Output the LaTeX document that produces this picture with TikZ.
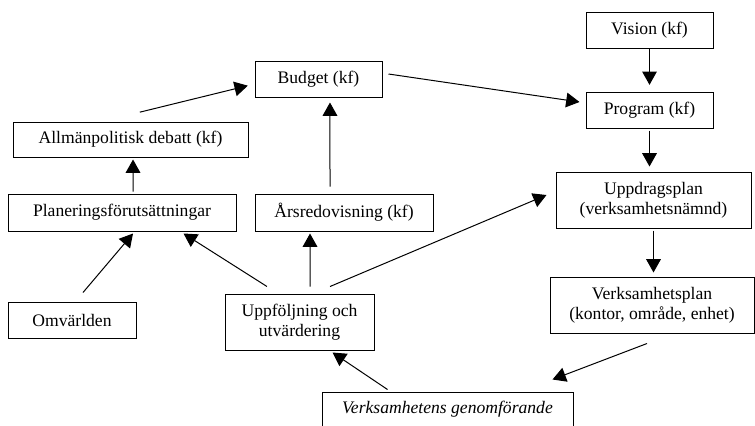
\documentclass[tikz,border=0pt]{standalone}
\usepackage{fontspec}
\setmainfont{Liberation Serif}
\usetikzlibrary{arrows.meta}

\begin{document}
\begin{tikzpicture}[x=0.75pt, y=-0.75pt, line width=0.75pt,
    >={Triangle[length=10pt, width=11pt]},
    box/.style={draw, inner sep=0pt, align=center,
      font=\fontsize{13.2}{15}\selectfont}]
        \useasboundingbox (0,0) rectangle (755,425);
        % planning chain (right)
        \node[box, minimum width=95.25pt, minimum height=27pt] (vision) at (649.5,30) {Vision (kf)};
        \node[box, minimum width=95.25pt, minimum height=27pt] (program) at (649.5,110) {Program (kf)};
        \node[box, minimum width=146.25pt, minimum height=42pt] (uppdrag) at (653.5,200) {Uppdragsplan\\(verksamhetsnämnd)};
        \node[box, minimum width=153pt, minimum height=42pt] (vplan) at (652,305) {Verksamhetsplan\\(kontor, område, enhet)};
        \node[box, minimum width=188.25pt, minimum height=25.5pt, font=\fontsize{13.2}{15}\selectfont\itshape] (vgen) at (447.5,409) {Verksamhetens genomförande};
        % follow-up and budget (left)
        \node[box, minimum width=111.75pt, minimum height=42pt] (uppf) at (299.5,322) {Uppföljning och\\utvärdering};
        \node[box, minimum width=96pt, minimum height=27pt] (omv) at (72,320) {Omvärlden};
        \node[box, minimum width=171pt, minimum height=27.75pt] (plan) at (122,212.5) {Planeringsförutsättningar};
        \node[box, minimum width=133.5pt, minimum height=27.75pt] (ars) at (344,212.5) {Årsredovisning (kf)};
        \node[box, minimum width=176.25pt, minimum height=26.25pt] (allman) at (130.5,139.5) {Allmänpolitisk debatt (kf)};
        \node[box, minimum width=95.25pt, minimum height=27pt] (budget) at (318.5,79) {Budget (kf)};

        \draw[->, shorten >=5pt] (vision.south) -- (vision.south |- program.north);
        \draw[->, shorten <=1.5pt, shorten >=3.75pt] (program.south) -- (program.south |- uppdrag.north);
        \draw[->, shorten <=1.5pt, shorten >=3pt] (uppdrag.south) -- (uppdrag.south |- vplan.north);
        \draw[->] ([shift={(-3.75pt,-7.5pt)}]vplan.south) -- ([shift={(-15.75pt,9pt)}]vgen.north east);
        \draw[->] ([shift={(49.5pt,1.5pt)}]vgen.north west) -- ([shift={(-31.5pt,-1.5pt)}]uppf.south east);
        \draw[->] ([shift={(-24.4pt,5.25pt)}]uppf.north) -- ([shift={(-39.75pt,-1.5pt)}]plan.south east);
        \draw[->] ([shift={(7.9pt,5.25pt)}]uppf.north) -- ([shift={(-25.5pt,-1.5pt)}]ars.south);
        \draw[->] ([shift={(22.9pt,5.25pt)}]uppf.north) -- ([shift={(-6.75pt,3.75pt)}]uppdrag.west);
        \draw[->] ([shift={(8.25pt,6.75pt)}]omv.north) -- ([shift={(8.25pt,-1.5pt)}]plan.south);
        \draw[->] ([shift={(8.25pt,1.5pt)}]plan.north) -- ([shift={(1.9pt,-1.5pt)}]allman.south);
        \draw[->] ([shift={(-10.5pt,5.25pt)}]ars.north) -- ([shift={(8.6pt,-3.75pt)}]budget.south);
        \draw[->] ([shift={(7pt,7pt)}]allman.north) -- ([shift={(-5pt,-5pt)}]budget.west);
        \draw[->] ([shift={(4.5pt,3.75pt)}]budget.east) -- ([shift={(-4.5pt,6pt)}]program.west);
      \end{tikzpicture}
\end{document}
